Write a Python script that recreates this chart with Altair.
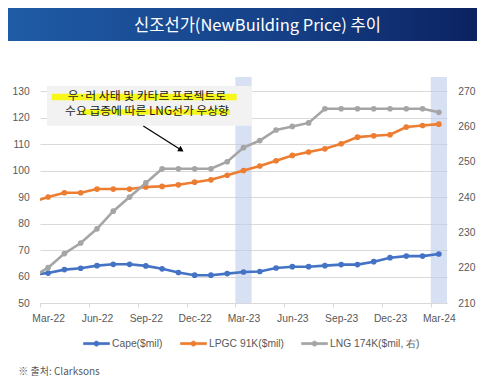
import json
import altair as alt
import pandas as pd

# ---------------- data ----------------
months = ["Feb-22", "Mar-22", "Apr-22", "May-22", "Jun-22", "Jul-22", "Aug-22", "Sep-22", "Oct-22",
          "Nov-22", "Dec-22", "Jan-23", "Feb-23", "Mar-23", "Apr-23", "May-23", "Jun-23", "Jul-23",
          "Aug-23", "Sep-23", "Oct-23", "Nov-23", "Dec-23", "Jan-24", "Feb-24", "Mar-24"]
cape = [60.7, 61.3, 62.6, 63.1, 64.1, 64.6, 64.6, 64.0, 62.9, 61.5, 60.5, 60.5, 61.1, 61.7, 61.9,
        63.2, 63.7, 63.7, 64.1, 64.5, 64.5, 65.6, 67.1, 67.7, 67.7, 68.5]
lpgc = [88.0, 90.0, 91.6, 91.6, 93.0, 93.0, 93.0, 93.8, 94.0, 94.6, 95.6, 96.5, 98.2, 100.0, 101.7,
        103.7, 105.7, 107.0, 108.2, 110.1, 112.6, 113.1, 113.5, 116.4, 117.0, 117.5]
lng = [217.2, 220, 224, 227, 231, 236, 240, 244, 248, 248, 248, 248, 250, 254, 256, 259, 260, 261,
       265, 265, 265, 265, 265, 265, 265, 264]
series_names = ["Cape($mil)", "LPGC 91K($mil)", "LNG 174K($mil, 右)"]
series_colors = ["#4472C4", "#ED7D31", "#A5A5A5"]
tick_labels = ["Mar-22", "Jun-22", "Sep-22", "Dec-22", "Mar-23", "Jun-23", "Sep-23", "Dec-23", "Mar-24"]
shaded_months = ["Mar-23", "Mar-24"]
left_ticks = [50, 60, 70, 80, 90, 100, 110, 120, 130]
right_ticks = [210, 220, 230, 240, 250, 260, 270]
title_text = "신조선가(NewBuilding Price) 추이"
note_lines = ["우·러 사태 및 카타르 프로젝트로", "수요 급증에 따른 LNG선가 우상향"]
source_text = "※ 출처: Clarksons"

# ---------------- tables ----------------
idx = {m: i - 1 for i, m in enumerate(months)}
df = pd.DataFrame({
    "month": months * 3,
    "idx": [idx[m] for m in months] * 3,
    "value": cape + lpgc + lng,
    "series": [series_names[0]] * len(months) + [series_names[1]] * len(months) + [series_names[2]] * len(months),
})
left_df = df[df["series"] != series_names[2]]
right_df = df[df["series"] == series_names[2]]
band_df = pd.DataFrame({"month": shaded_months, "idx": [idx[m] for m in shaded_months]})
one = pd.DataFrame({"a": [0]})

W, H = 407, 226
FONT = "Liberation Sans"
KFONT = "Noto Sans CJK KR"
GRAY_TXT = "#595959"

x_scale = alt.Scale(domain=[-0.5, 24.5], nice=False, zero=False)
x_axis = alt.Axis(
    values=[idx[m] - 0.5 for m in tick_labels],
    labelExpr=json.dumps(tick_labels) + "[round((datum.value + 0.5) / 3)]",
    labelOffset=8.14, grid=False, domainColor="#d9d9d9", tickColor="#d9d9d9",
    tickSize=4, labelPadding=6, labelFont=FONT, labelFontSize=10.3, labelColor=GRAY_TXT,
    title=None, labelAngle=0, labelOverlap=False, labelFlush=False,
)
color_scale = alt.Scale(domain=series_names, range=series_colors)
legend_path = ("M-1,-0.08L1,-0.08L1,0.08L-1,0.08Z "
               "M0.2,0A0.2,0.2,0,1,1,-0.2,0A0.2,0.2,0,1,1,0.2,0Z")
legend = alt.Legend(
    title=None, orient="none", legendX=43, legendY=253, direction="horizontal",
    symbolType=legend_path, symbolSize=676, symbolStrokeWidth=0.6, symbolOpacity=1,
    labelFont=FONT, labelFontSize=10.3, labelColor=GRAY_TXT, labelOffset=2,
    columnPadding=16, padding=0,
)

yl_scale = alt.Scale(domain=[50, 135.3], nice=False, zero=False)
yl_axis = alt.Axis(values=left_ticks, grid=True, gridColor="#d9d9d9", gridWidth=1, domain=False,
                   ticks=False, labelPadding=10.7, labelFont=FONT, labelFontSize=10.3,
                   labelColor=GRAY_TXT, title=None)
yr_scale = alt.Scale(domain=[210, 274], nice=False, zero=False)
yr_axis = alt.Axis(orient="right", values=right_ticks, grid=False, domain=False, ticks=False,
                   labelPadding=10.7, labelFont=FONT, labelFontSize=10.3, labelColor=GRAY_TXT,
                   title=None)

# ---------------- decorations ----------------
title_band = alt.Chart(one).mark_rect(
    color=alt.Gradient(gradient="linear",
                       stops=[alt.GradientStop(color="#1f5ca6", offset=0),
                              alt.GradientStop(color="#153f86", offset=0.6),
                              alt.GradientStop(color="#0b2261", offset=1)],
                       x1=0, x2=1, y1=0, y2=0)
).encode(x=alt.value(-32), x2=alt.value(437), y=alt.value(-69), y2=alt.value(-36))
title_mark = alt.Chart(one).mark_text(
    text=title_text, font=KFONT, fontSize=16.5, color="white", align="center", baseline="alphabetic"
).encode(x=alt.value(217.5), y=alt.value(-46))

note_box = alt.Chart(one).mark_rect(color="#f2f2f2").encode(
    x=alt.value(7), x2=alt.value(212), y=alt.value(9), y2=alt.value(48.7))
hl1 = alt.Chart(one).mark_rect(color="#f7f71c").encode(
    x=alt.value(11.7), x2=alt.value(196.7), y=alt.value(16.7), y2=alt.value(23.3))
hl2 = alt.Chart(one).mark_rect(color="#f7f71c").encode(
    x=alt.value(42), x2=alt.value(190), y=alt.value(32.3), y2=alt.value(37.7))
note = alt.Chart(one).mark_text(text=note_lines, font=KFONT, fontSize=11.8, color="#1a1a1a",
                                align="center", baseline="middle", lineHeight=14.5).encode(
    x=alt.value(107), y=alt.value(19.2))
arrow_line = alt.Chart(one).mark_rule(color="black", strokeWidth=1.2).encode(
    x=alt.value(103.3), y=alt.value(49), x2=alt.value(141.2), y2=alt.value(73))
arrow_head = alt.Chart(one).mark_point(shape="triangle-right", filled=True, color="black",
                                       opacity=1, size=40, angle=32.3).encode(
    x=alt.value(141.2), y=alt.value(73))
source_mark = alt.Chart(one).mark_text(text=source_text, font=KFONT, fontSize=10, color=GRAY_TXT,
                                       align="left", baseline="alphabetic").encode(
    x=alt.value(-21.7), y=alt.value(298))

# ---------------- data layers ----------------
bands = alt.Chart(band_df).transform_calculate(
    x0="datum.idx - 0.5", x1="datum.idx + 0.5"
).mark_rect(color="#becdeb", opacity=0.6).encode(
    x=alt.X("x0:Q", scale=x_scale, axis=x_axis), x2="x1:Q",
    y=alt.value(0), y2=alt.value(H))

left_base = alt.Chart(left_df).encode(
    x=alt.X("idx:Q", scale=x_scale, axis=x_axis),
    y=alt.Y("value:Q", scale=yl_scale, axis=yl_axis),
    color=alt.Color("series:N", scale=color_scale, legend=legend),
)
left_lines = left_base.mark_line(strokeWidth=2.6, clip=True)
left_points = left_base.mark_point(filled=True, opacity=1, size=32, clip=True)

right_base = alt.Chart(right_df).encode(
    x=alt.X("idx:Q", scale=x_scale, axis=x_axis),
    y=alt.Y("value:Q", scale=yr_scale, axis=yr_axis),
    color=alt.Color("series:N", scale=color_scale, legend=legend),
)
right_lines = right_base.mark_line(strokeWidth=2.6, clip=True)
right_points = right_base.mark_point(filled=True, opacity=1, size=32, clip=True)

left_group = alt.layer(title_band, title_mark, bands, left_lines, left_points,
                       note_box, hl1, hl2, note, arrow_line, arrow_head, source_mark)
right_group = alt.layer(right_lines, right_points)

chart = alt.layer(left_group, right_group).resolve_scale(y="independent").properties(
    width=W, height=H,
    autosize=alt.AutoSizeParams(type="none"),
    padding={"left": 32, "top": 69, "right": 30, "bottom": 75},
    background="white",
).configure_view(stroke=None)

chart.save("out.html", embed_options={"renderer": "svg", "actions": False})
